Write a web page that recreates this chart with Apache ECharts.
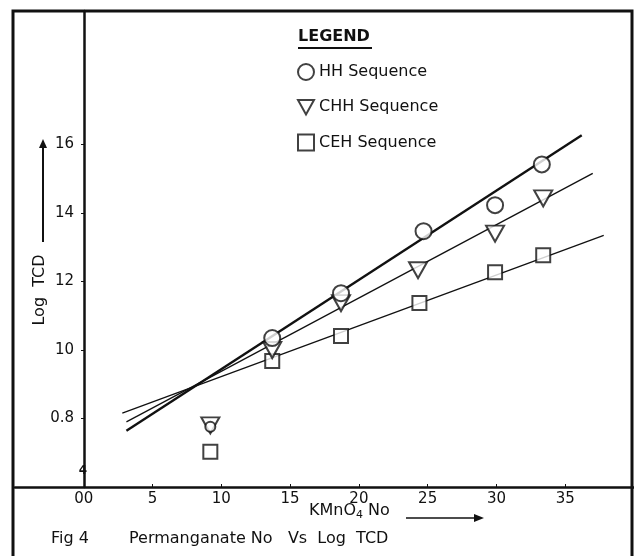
<!DOCTYPE html>
<html>
<head>
<meta charset="utf-8">
<title>Permanganate No Vs Log TCD</title>
<script src="https://cdn.jsdelivr.net/npm/echarts@6/dist/echarts.min.js"></script>
<style>
  html, body { margin: 0; padding: 0; background: #fff; }
  #chart { width: 634px; height: 556px; }
</style>
</head>
<body>
<div id="chart"></div>
<script>
// values
const seriesNames = ['HH Sequence', 'CHH Sequence', 'CEH Sequence'];

const hhX = [9.2, 13.7, 18.7, 24.7, 29.9, 33.3];
const hhY = [0.776, 1.035, 1.166, 1.347, 1.423, 1.542];
const chhX = [9.2, 13.7, 18.7, 24.3, 29.9, 33.4];
const chhY = [0.78, 1.0, 1.137, 1.233, 1.34, 1.443];
const cehX = [9.2, 13.7, 18.7, 24.4, 29.9, 33.4];
const cehY = [0.703, 0.968, 1.041, 1.137, 1.227, 1.277];

// fitted straight lines, as drawn (start / end points)
const hhFit = [[3.1, 0.764], [36.2, 1.627]];
const chhFit = [[3.1, 0.79], [37.0, 1.516]];
const cehFit = [[2.8, 0.816], [37.8, 1.335]];

const xTickValues = [0, 5, 10, 15, 20, 25, 30, 35];
const xTickLabels = ['00', '5', '10', '15', '20', '25', '30', '35'];
const yTickValues = [0.8, 1.0, 1.2, 1.4, 1.6];
const yTickLabels = ['0.8', '10', '12', '14', '16'];

const ink = '#111';
const font = 'DejaVu Sans';
const triDown = 'path://M0,0L20,0L10,18Z';

const pairs = (xs, ys) => xs.map((x, i) => [x, ys[i]]);

const chart = echarts.init(document.getElementById('chart'));

const markerStyle = { color: '#fff', borderColor: ink, borderWidth: 2 };

const option = {
  animation: false,
  backgroundColor: '#fff',
  textStyle: { fontFamily: font, color: ink },
  grid: { left: 15, right: 0, top: 11, bottom: 69, outerBoundsMode: 'none', containLabel: false },
  legend: {
    data: [
      { name: 'HH Sequence', icon: 'circle' },
      { name: 'CHH Sequence', icon: triDown },
      { name: 'CEH Sequence', icon: 'rect' }
    ],
    orient: 'vertical',
    left: 297,
    top: 63,
    padding: 0,
    itemWidth: 16,
    itemHeight: 16,
    itemGap: 18,
    textStyle: { fontSize: 16, color: ink, fontFamily: font }
  },
  xAxis: {
    type: 'value',
    min: -5,
    max: 40,
    interval: 5,
    splitLine: { show: false },
    axisLine: { lineStyle: { color: ink, width: 2.5 } },
    axisTick: { inside: true, length: 3, customValues: xTickValues, lineStyle: { color: ink } },
    axisLabel: {
      margin: 5,
      fontSize: 15,
      color: ink,
      fontFamily: font,
      customValues: xTickValues,
      formatter: (v) => {
        const i = xTickValues.indexOf(v);
        return i < 0 ? '' : xTickLabels[i];
      }
    }
  },
  yAxis: {
    type: 'value',
    min: 0.6,
    max: 1.99,
    interval: 0.2,
    offset: -69,
    splitLine: { show: false },
    axisLine: { onZero: false, lineStyle: { color: ink, width: 2.5 } },
    axisTick: { length: 3, customValues: yTickValues, lineStyle: { color: ink } },
    axisLabel: {
      margin: 10,
      fontSize: 15,
      color: ink,
      fontFamily: font,
      customValues: yTickValues,
      formatter: (v) => {
        const i = yTickValues.findIndex((t) => Math.abs(t - v) < 1e-6);
        return i < 0 ? '' : yTickLabels[i];
      }
    }
  },
  series: [
    {
      type: 'line', data: hhFit, symbol: 'none', silent: true, z: 1,
      lineStyle: { color: ink, width: 2.4 }
    },
    {
      type: 'line', data: chhFit, symbol: 'none', silent: true, z: 1,
      lineStyle: { color: ink, width: 1.3 }
    },
    {
      type: 'line', data: cehFit, symbol: 'none', silent: true, z: 1,
      lineStyle: { color: ink, width: 1.3 }
    },
    {
      name: seriesNames[2], type: 'scatter', data: pairs(cehX, cehY), z: 3,
      symbol: 'rect', symbolSize: 14, itemStyle: markerStyle
    },
    {
      name: seriesNames[1], type: 'scatter', data: pairs(chhX, chhY), z: 3,
      symbol: triDown, symbolSize: [18, 16], itemStyle: markerStyle
    },
    {
      name: seriesNames[0], type: 'scatter', data: pairs(hhX, hhY), z: 4,
      symbol: 'circle',
      symbolSize: (val, p) => (p.dataIndex === 0 ? 10 : 16),
      itemStyle: markerStyle
    }
  ],
  graphic: [
    // outer frame
    {
      type: 'rect', z: 10, silent: true,
      shape: { x: 13, y: 11, width: 619, height: 560 },
      style: { fill: 'none', stroke: ink, lineWidth: 3 }
    },
    // legend heading
    {
      type: 'text', left: 298, top: 29, z: 10,
      style: { text: 'LEGEND', fontSize: 16, fontWeight: 'bold', fontFamily: font, fill: ink }
    },
    {
      type: 'line', z: 10, silent: true,
      shape: { x1: 298, y1: 48, x2: 372, y2: 48 },
      style: { stroke: ink, lineWidth: 2 }
    },
    // y-axis name with arrow
    {
      type: 'text', z: 10, x: 40, y: 290, rotation: Math.PI / 2,
      style: {
        text: 'Log  TCD', fontSize: 16, fontFamily: font, fill: ink,
        align: 'center', verticalAlign: 'middle'
      }
    },
    {
      type: 'line', z: 10, silent: true,
      shape: { x1: 43, y1: 242, x2: 43, y2: 146 },
      style: { stroke: ink, lineWidth: 2 }
    },
    {
      type: 'polygon', z: 10, silent: true,
      shape: { points: [[39, 148], [47, 148], [43, 139]] },
      style: { fill: ink }
    },
    // axis break mark
    {
      type: 'text', z: 10, x: 83, y: 471,
      style: { text: '4', fontSize: 12, fontWeight: 'bold', fontFamily: font, fill: ink, align: 'center', verticalAlign: 'middle' }
    },
    // x-axis name with arrow
    {
      type: 'text', z: 10, left: 309, top: 503,
      style: {
        text: 'KMnO{s|4} No', fontSize: 16, fontFamily: font, fill: ink,
        rich: { s: { fontSize: 11, padding: [8, 0, 0, 0], fontFamily: font, fill: ink } }
      }
    },
    {
      type: 'line', z: 10, silent: true,
      shape: { x1: 406, y1: 518, x2: 476, y2: 518 },
      style: { stroke: ink, lineWidth: 1.5 }
    },
    {
      type: 'polygon', z: 10, silent: true,
      shape: { points: [[474, 514], [474, 522], [484, 518]] },
      style: { fill: ink }
    },
    // caption
    {
      type: 'text', z: 10, left: 51, top: 531,
      style: { text: 'Fig 4', fontSize: 16, fontFamily: font, fill: ink }
    },
    {
      type: 'text', z: 10, left: 129, top: 531,
      style: { text: 'Permanganate No   Vs  Log  TCD', fontSize: 16, fontFamily: font, fill: ink }
    }
  ]
};

chart.setOption(option);
</script>
</body>
</html>
